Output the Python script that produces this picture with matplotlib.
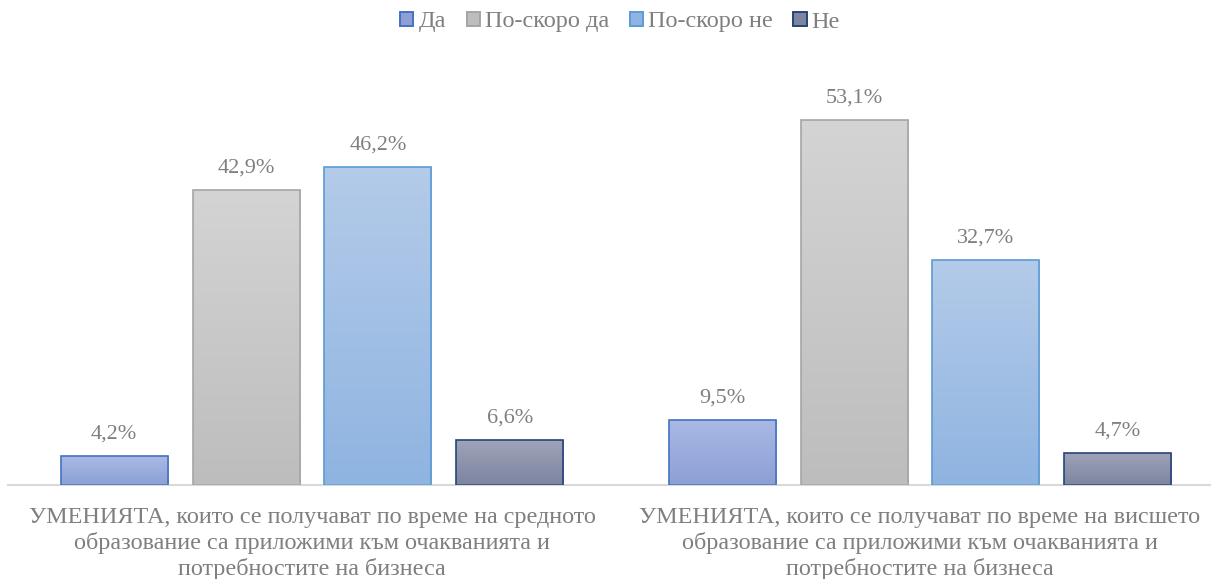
import numpy as np
import matplotlib.pyplot as plt
from matplotlib.colors import LinearSegmentedColormap
from matplotlib.patches import Patch

plt.rcParams['font.family'] = ['Liberation Serif', 'DejaVu Serif']

categories = [
    "УМЕНИЯТА, които се получават по време на средното\nобразование са приложими към очакванията и\nпотребностите на бизнеса",
    "УМЕНИЯТА, които се получават по време на висшето\nобразование са приложими към очакванията и\nпотребностите на бизнеса",
]
series = ["Да", "По-скоро да", "По-скоро не", "Не"]
values = [
    [4.2, 9.5],
    [42.9, 53.1],
    [46.2, 32.7],
    [6.6, 4.7],
]
# gradient top, gradient bottom, edge
top_colors = ["#aab9e4", "#d4d4d4", "#b4cbe9", "#a0a4b9"]
bottom_colors = ["#8ca0d6", "#bdbdbd", "#8fb4e1", "#7d84a0"]
edge_colors = ["#4472c4", "#a5a5a5", "#5b9bd5", "#264478"]
text_color = "#7f7f7f"

fig = plt.figure(figsize=(12.11, 5.79), dpi=100)
ax = fig.add_axes([8 / 1211, 94 / 579, 1216 / 1211, 60 * 6.88 / 579])

x = np.arange(len(categories))
pitch = 0.217
width = 0.176

for i, name in enumerate(series):
    pos = x + (i - 1.5) * pitch
    bars = ax.bar(pos, values[i], width, color="none", edgecolor=edge_colors[i],
                  linewidth=1.2, zorder=3, label=name)
    cmap = LinearSegmentedColormap.from_list(name, [bottom_colors[i], top_colors[i]])
    for b, v in zip(bars, values[i]):
        x0, y0 = b.get_x(), b.get_y()
        grad = np.linspace(0, 1, 256).reshape(-1, 1)
        img = ax.imshow(grad, cmap=cmap, origin="lower", aspect="auto",
                        extent=(x0, x0 + b.get_width(), y0, y0 + b.get_height()), zorder=2)
        img.set_clip_path(b)
        ax.annotate(f"{v:.1f}%".replace(".", ","), (x0 + b.get_width() / 2, v),
                    xytext=(0, 9), textcoords="offset points", ha="center", va="bottom",
                    fontsize=16, color=text_color)

ax.set_xlim(-0.5, 1.5)
ax.set_ylim(0, 60)
ax.set_xticks(x)
ax.set_xticklabels(categories, fontsize=17.4, color=text_color, linespacing=1.22)
ax.tick_params(axis="x", length=0, pad=16)
ax.set_yticks([])
for s in ["top", "right", "left"]:
    ax.spines[s].set_visible(False)
ax.spines["bottom"].set_color("#d9d9d9")
ax.spines["bottom"].set_linewidth(1.5)

handles = [Patch(facecolor=bottom_colors[i], edgecolor=edge_colors[i], linewidth=1.4, label=series[i])
           for i in range(len(series))]
fig.legend(handles=handles, loc="center", bbox_to_anchor=(620 / 1211, 1 - 22 / 579), ncol=4,
           frameon=False, fontsize=17.5, labelcolor=text_color, handlelength=0.55, handleheight=0.55,
           handletextpad=0.2, columnspacing=0.85)

fig.savefig("out.png", dpi=100)
